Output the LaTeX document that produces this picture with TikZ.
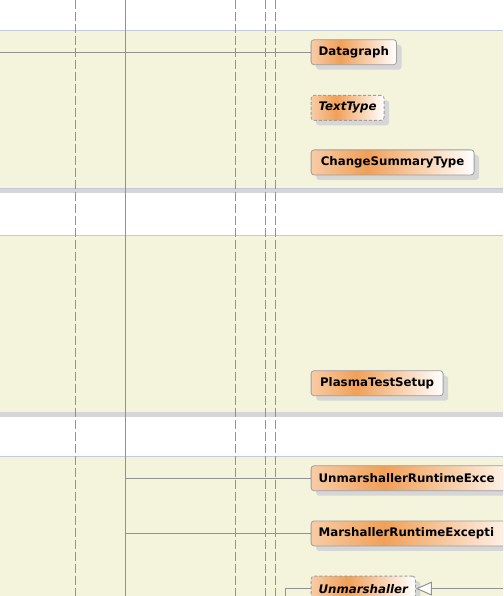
\documentclass[tikz,border=0pt]{standalone}
\usepackage{fontspec}
\setmainfont{DejaVu Sans}
\usetikzlibrary{arrows.meta,shadows,positioning}
\definecolor{bandbeige}{RGB}{244,244,220}
\definecolor{bandedge}{RGB}{196,202,222}
\definecolor{sepgray}{RGB}{214,214,214}
\definecolor{linegray}{RGB}{146,146,146}
\definecolor{boxedge}{RGB}{158,158,158}
\definecolor{shadowgray}{RGB}{214,214,214}
\definecolor{orangelight}{RGB}{248,204,166}
\definecolor{orangemid}{RGB}{241,160,88}
\pgfdeclarehorizontalshading{classfill}{100bp}{color(0bp)=(orangelight); color(25bp)=(orangelight);
  color(42bp)=(orangemid); color(75bp)=(white); color(100bp)=(white)}
\tikzset{
  cls/.style={draw=boxedge, line width=0.8pt, rounded corners=3pt, anchor=north west,
    minimum height=25pt, inner xsep=7.5pt, inner ysep=0pt, shading=classfill,
    font=\fontsize{11.8}{14}\selectfont\bfseries,
    drop shadow={shadow xshift=5pt, shadow yshift=-5pt, fill=shadowgray, opacity=1}},
  abstractcls/.style={cls, dash pattern=on 3pt off 2pt,
    font=\fontsize{11.8}{14}\selectfont\bfseries\itshape},
  cutcls/.style={cls, text width=200pt, align=left},
  lifeline/.style={draw=linegray, line width=1pt, dash pattern=on 9pt off 3pt},
  link/.style={draw=linegray, line width=1pt},
  realize/.style={link, -{Triangle[open, length=16pt, width=14pt, fill=white]}}
}
\begin{document}
\begin{tikzpicture}[x=1pt,y=-1pt]
  \useasboundingbox (0,0) rectangle (503,596);
  \clip (0,0) rectangle (503,596);
  % bands
  \fill[bandbeige] (0,30) rectangle (503,188);
  \fill[bandbeige] (0,235) rectangle (503,412);
  \fill[bandbeige] (0,456) rectangle (503,596);
  \fill[sepgray] (0,188) rectangle (503,193);
  \fill[sepgray] (0,412) rectangle (503,417);
  \foreach \by in {30,188,235,456} \draw[bandedge] (0,\by) -- (503,\by);

  % lifelines
  \coordinate (edge) at (0,0);
  \coordinate (hub) at (125,0);
  \foreach \lx in {75,235,265,275} \draw[lifeline] (\lx,0) -- (\lx,596);
  \draw[link] (hub) -- (125,596);

  % classes
  \node[cls, minimum width=82pt] (dg) at (310.7,39.3) {Datagraph};
  \node[abstractcls, minimum width=72pt] (tt) at (310.7,95) {TextType};
  \node[cls, minimum width=163pt] (cst) at (310.7,149.5) {ChangeSummaryType};
  \node[cls, minimum width=132pt] (pts) at (310.7,370.3) {PlasmaTestSetup};
  \node[cutcls] (ure) at (310.7,465.3) {UnmarshallerRuntimeExce};
  \node[cutcls] (mre) at (310.7,520.5) {MarshallerRuntimeExcepti};
  \node[abstractcls, minimum width=100pt] (unm) at (310.7,575.7) {Unmarshaller};

  % links
  \draw[link] (dg.west -| edge) -- (dg.west);
  \draw[link] (ure.west -| hub) -- (ure.west);
  \draw[link] (mre.west -| hub) -- (mre.west);
  \coordinate (unmin) at (285,596);
  \coordinate (unmimpl) at (503,0);
  \draw[link] (unmin) |- (unm.west);
  \draw[realize] (unm.east -| unmimpl) -- (unm.east);
\end{tikzpicture}
\end{document}
